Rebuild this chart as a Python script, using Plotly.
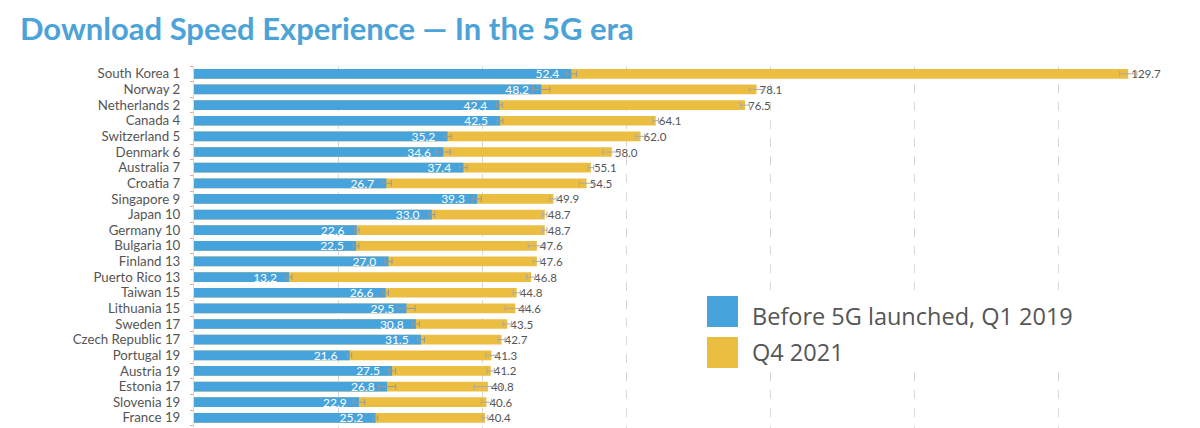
import plotly.graph_objects as go

countries = ["South Korea 1", "Norway 2", "Netherlands 2", "Canada 4", "Switzerland 5",
             "Denmark 6", "Australia 7", "Croatia 7", "Singapore 9", "Japan 10",
             "Germany 10", "Bulgaria 10", "Finland 13", "Puerto Rico 13", "Taiwan 15",
             "Lithuania 15", "Sweden 17", "Czech Republic 17", "Portugal 19", "Austria 19",
             "Estonia 17", "Slovenia 19", "France 19"]
q1_2019 = [52.4, 48.2, 42.4, 42.5, 35.2, 34.6, 37.4, 26.7, 39.3, 33.0, 22.6, 22.5, 27.0,
           13.2, 26.6, 29.5, 30.8, 31.5, 21.6, 27.5, 26.8, 22.9, 25.2]
q4_2021 = [129.7, 78.1, 76.5, 64.1, 62.0, 58.0, 55.1, 54.5, 49.9, 48.7, 48.7, 47.6, 47.6,
           46.8, 44.8, 44.6, 43.5, 42.7, 41.3, 41.2, 40.8, 40.6, 40.4]
q1_err = [0.7, 1.2, 0.4, 0.4, 0.5, 1.0, 0.5, 0.7, 0.6, 0.4, 0.3, 0.4, 0.5,
          0.4, 0.4, 1.2, 0.5, 0.5, 0.3, 0.5, 1.2, 0.8, 0.3]
q4_err = [1.2, 1.0, 0.6, 0.4, 0.6, 1.2, 0.4, 1.0, 0.5, 0.3, 0.3, 1.2, 0.5,
          0.6, 0.5, 1.4, 0.6, 0.5, 0.8, 0.5, 1.9, 0.7, 0.4]
series_names = ["Before 5G launched, Q1 2019", "Q4 2021"]
grid_vals = [20, 40, 60, 80, 100, 120]

BLUE = "#47a3dc"
YELLOW = "#ebbd40"
ypos = list(range(len(countries)))

# the page body adds an 8px offset; all pixel references below are page pixels minus 8
OFF = 8
PX_L, PX_R, PX_T, PX_B, W, H = 194 - OFF, 1170 - OFF, 66 - OFF, 428 - OFF, 1200, 428
x_max = 135.5
row_px = (PX_B - PX_T) / 23.15

def dx(px):
    return (px - OFF - PX_L) / (PX_R - PX_L) * x_max

def dy(py):
    return (py - OFF - PX_T) / row_px - 0.5

fig = go.Figure()
fig.add_trace(go.Bar(
    y=ypos, x=q4_2021, orientation="h", name=series_names[1],
    marker=dict(color=YELLOW, line=dict(width=0)), width=0.62,
    error_x=dict(type="data", array=q4_err, color="#aaaaaa", thickness=1, width=3),
    text=[f"{v:.1f}" for v in q4_2021], textposition="outside",
    textfont=dict(family="Lato", size=11.5, color="#555555"),
    constraintext="none", cliponaxis=False, showlegend=False,
))
fig.add_trace(go.Bar(
    y=ypos, x=q1_2019, orientation="h", name=series_names[0],
    marker=dict(color=BLUE, line=dict(width=0)), width=0.62,
    error_x=dict(type="data", array=q1_err, color="#999999", thickness=1, width=3),
    text=[f"{v:.1f}\u00a0\u00a0\u00a0" for v in q1_2019], textposition="inside",
    insidetextanchor="end",
    textfont=dict(family="Lato", size=12, color="white"),
    constraintext="none", showlegend=False,
))

shapes = [
    dict(type="rect", xref="x", yref="y", x0=dx(700), x1=dx(1095), y0=dy(290), y1=dy(372),
         fillcolor="white", line=dict(width=0), layer="above"),
    dict(type="rect", xref="x", yref="y", x0=dx(707), x1=dx(738), y0=dy(296), y1=dy(327),
         fillcolor=BLUE, line=dict(width=0), layer="above"),
    dict(type="rect", xref="x", yref="y", x0=dx(707), x1=dx(738), y0=dy(337), y1=dy(368),
         fillcolor=YELLOW, line=dict(width=0), layer="above"),
]
annotations = [
    dict(text=series_names[0], xref="x", yref="y", x=dx(750), y=dy(316), xanchor="left",
         yanchor="middle", showarrow=False,
         font=dict(family="Open Sans", size=23.5, color="#555555")),
    dict(text=series_names[1], xref="x", yref="y", x=dx(750), y=dy(352), xanchor="left",
         yanchor="middle", showarrow=False,
         font=dict(family="Open Sans", size=23.5, color="#555555")),
    dict(text="<b>Download Speed Experience — In the 5G era</b>", xref="paper", yref="paper",
         x=(18 - OFF - PX_L) / (PX_R - PX_L), y=1 + (PX_T - (28 - OFF)) / (PX_B - PX_T),
         xanchor="left", yanchor="middle", showarrow=False,
         font=dict(family="Lato", size=31, color="#4ca3d8")),
]

fig.update_layout(
    width=W, height=H,
    margin=dict(l=PX_L, r=W - PX_R, t=PX_T, b=H - PX_B, pad=0),
    paper_bgcolor="white", plot_bgcolor="white",
    barmode="overlay",
    shapes=shapes, annotations=annotations,
    xaxis=dict(range=[0, x_max], tickvals=grid_vals, showticklabels=False,
               showgrid=True, gridcolor="#d8d8d8", griddash="dash", gridwidth=1,
               zeroline=False, showline=False),
    yaxis=dict(range=[22.65, -0.5], tickvals=ypos, ticktext=countries,
               tickfont=dict(family="Lato", size=13.3, color="#555555"),
               ticks="", ticklabelstandoff=10, showgrid=False, zeroline=False,
               showline=True, linecolor="#dddddd", linewidth=1,
               minor=dict(tickmode="linear", tick0=0.5, dtick=1, ticks="outside",
                          ticklen=3, tickcolor="#d9a9a0", showgrid=False)),
    font=dict(family="Lato"),
)

fig.write_html("out.html")
